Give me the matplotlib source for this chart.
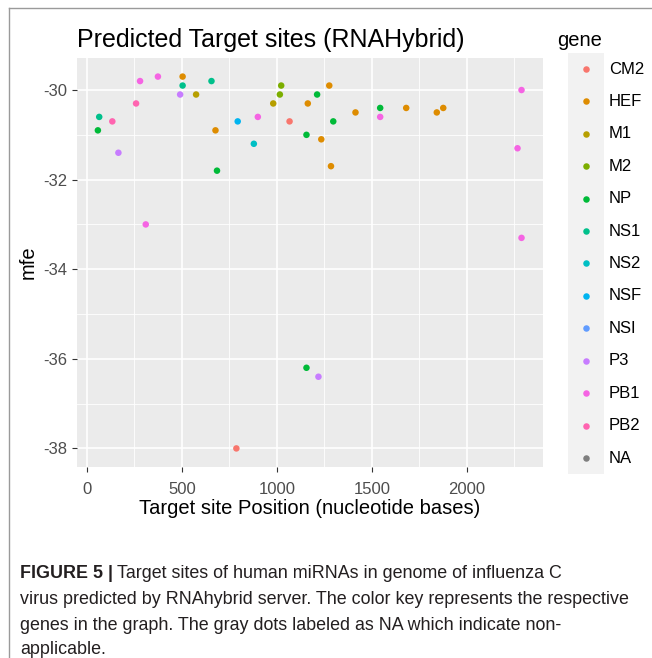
import matplotlib
matplotlib.use("Agg")
import matplotlib.pyplot as plt
from matplotlib.lines import Line2D
from matplotlib.patches import Rectangle

plt.rcParams['font.family'] = ['Liberation Sans', 'DejaVu Sans']
plt.rcParams['axes.unicode_minus'] = False

# target sites
gene = ["NS1", "NP", "PB2", "P3", "PB2", "PB1", "PB1", "PB1", "HEF", "NS1",
        "P3", "M1", "NS1", "HEF", "NP", "NSF", "NS2", "PB1", "M1", "M2",
        "M2", "CM2", "NP", "HEF", "HEF", "NP", "NP", "HEF", "HEF", "HEF",
        "NP", "PB1", "HEF", "HEF", "HEF", "PB1", "PB1", "PB1", "NP", "P3",
        "CM2"]
position = [65, 58, 134, 166, 259, 280, 374, 310, 504, 504,
            491, 575, 656, 677, 685, 794, 879, 900, 981, 1023,
            1016, 1067, 1156, 1163, 1276, 1212, 1297, 1234, 1285, 1414,
            1544, 1544, 1681, 1842, 1876, 2288, 2267, 2288, 1156, 1219,
            787]
mfe = [-30.6, -30.9, -30.7, -31.4, -30.3, -29.8, -29.7, -33.0, -29.7, -29.9,
       -30.1, -30.1, -29.8, -30.9, -31.8, -30.7, -31.2, -30.6, -30.3, -29.9,
       -30.1, -30.7, -31.0, -30.3, -29.9, -30.1, -30.7, -31.1, -31.7, -30.5,
       -30.4, -30.6, -30.4, -30.5, -30.4, -30.0, -31.3, -33.3, -36.2, -36.4,
       -38.0]

levels = ["CM2", "HEF", "M1", "M2", "NP", "NS1", "NS2", "NSF", "NSI",
          "P3", "PB1", "PB2", "NA"]
colors = ["#F8766D", "#DE8C00", "#B79F00", "#7CAE00", "#00BA38", "#00C08B",
          "#00BFC4", "#00B4F0", "#619CFF", "#C77CFF", "#F564E3", "#FF64B0",
          "#7F7F7F"]
col = dict(zip(levels, colors))

W, H = 652, 658
fig = plt.figure(figsize=(W / 100, H / 100), dpi=100)

def fx(px):
    return px / W

def fy(py):
    return 1 - py / H

ax = fig.add_axes([fx(76.7), fy(467), fx(542.7) - fx(76.7), fy(58) - fy(467)])
ax.set_facecolor("#EBEBEB")
for s in ax.spines.values():
    s.set_visible(False)

ax.scatter(position, mfe, c=[col[g] for g in gene], s=22, linewidths=0, zorder=3)

# ggplot-like 5% expansion
x0, x1 = min(position), max(position)
y0, y1 = min(mfe), max(mfe)
ax.set_xlim(x0 - 0.05 * (x1 - x0), x1 + 0.05 * (x1 - x0))
ax.set_ylim(y0 - 0.05 * (y1 - y0), y1 + 0.05 * (y1 - y0))

ax.set_xticks([0, 500, 1000, 1500, 2000])
ax.set_xticks([250, 750, 1250, 1750, 2250], minor=True)
ax.set_yticks([-38, -36, -34, -32, -30])
ax.set_yticks([-37, -35, -33, -31], minor=True)
ax.grid(which="major", color="white", linewidth=1.2, zorder=1)
ax.grid(which="minor", color="white", linewidth=0.6, zorder=1)
ax.set_axisbelow(True)
ax.tick_params(which="major", length=3.6, width=0.8, color="#333333",
               labelsize=12, labelcolor="#4D4D4D", pad=3)
ax.tick_params(axis="x", which="major", pad=7)
ax.tick_params(which="minor", length=0)

ax.set_xlabel("Target site Position (nucleotide bases)", fontsize=14.5, color="black")
ax.xaxis.set_label_coords(0.5, -(509 - 467) / (467 - 58))
ax.xaxis.label.set_va("center")
fig.text(fx(28), fy(262), "mfe", rotation=90, fontsize=14.5, ha="center", va="center")

fig.text(fx(76.7), fy(40), "Predicted Target sites (RNAHybrid)", fontsize=18,
         ha="left", va="center", color="black")

# legend
fig.text(fx(557), fy(41), "gene", fontsize=14.5, ha="left", va="center")
lax = fig.add_axes([fx(568), fy(474.2), fx(604) - fx(568), fy(52.8) - fy(474.2)])
lax.set_xlim(0, 1)
lax.set_ylim(len(levels) - 0.5, -0.5)
lax.axis("off")
lax.add_patch(Rectangle((0, -0.5), 1, len(levels), color="#F2F2F2", zorder=0))
for i, g in enumerate(levels):
    lax.scatter([0.5], [i], s=22, color=col[g], linewidths=0, zorder=2)
    fig.text(fx(609), fy(69 + 32.42 * i), g, fontsize=12, ha="left", va="center")

# border of the figure panel
fig.add_artist(Line2D([fx(9), 1], [fy(8), fy(8)], color="#9A9A9A", linewidth=1))
fig.add_artist(Line2D([fx(9), fx(9)], [fy(8), 0], color="#9A9A9A", linewidth=1))

# caption
cap_lines = [
    "Target sites of human miRNAs in genome of influenza C",
    "virus predicted by RNAhybrid server. The color key represents the respective",
    "genes in the graph. The gray dots labeled as NA which indicate non-",
    "applicable.",
]
cap_y = [574, 600, 626, 650]
fig.canvas.draw()
r = fig.canvas.get_renderer()
b = fig.text(fx(20), fy(cap_y[0]), "FIGURE 5 |", fontsize=12.9, fontweight="bold",
             ha="left", va="center", color="#231F20")
bw = b.get_window_extent(r).width
fig.text(fx(20) + (bw + 4) / W, fy(cap_y[0]), cap_lines[0], fontsize=12.9,
         ha="left", va="center", color="#231F20")
for t, y in zip(cap_lines[1:], cap_y[1:]):
    fig.text(fx(20), fy(y), t, fontsize=12.9, ha="left", va="center", color="#231F20")

fig.savefig("out.png", dpi=100)
